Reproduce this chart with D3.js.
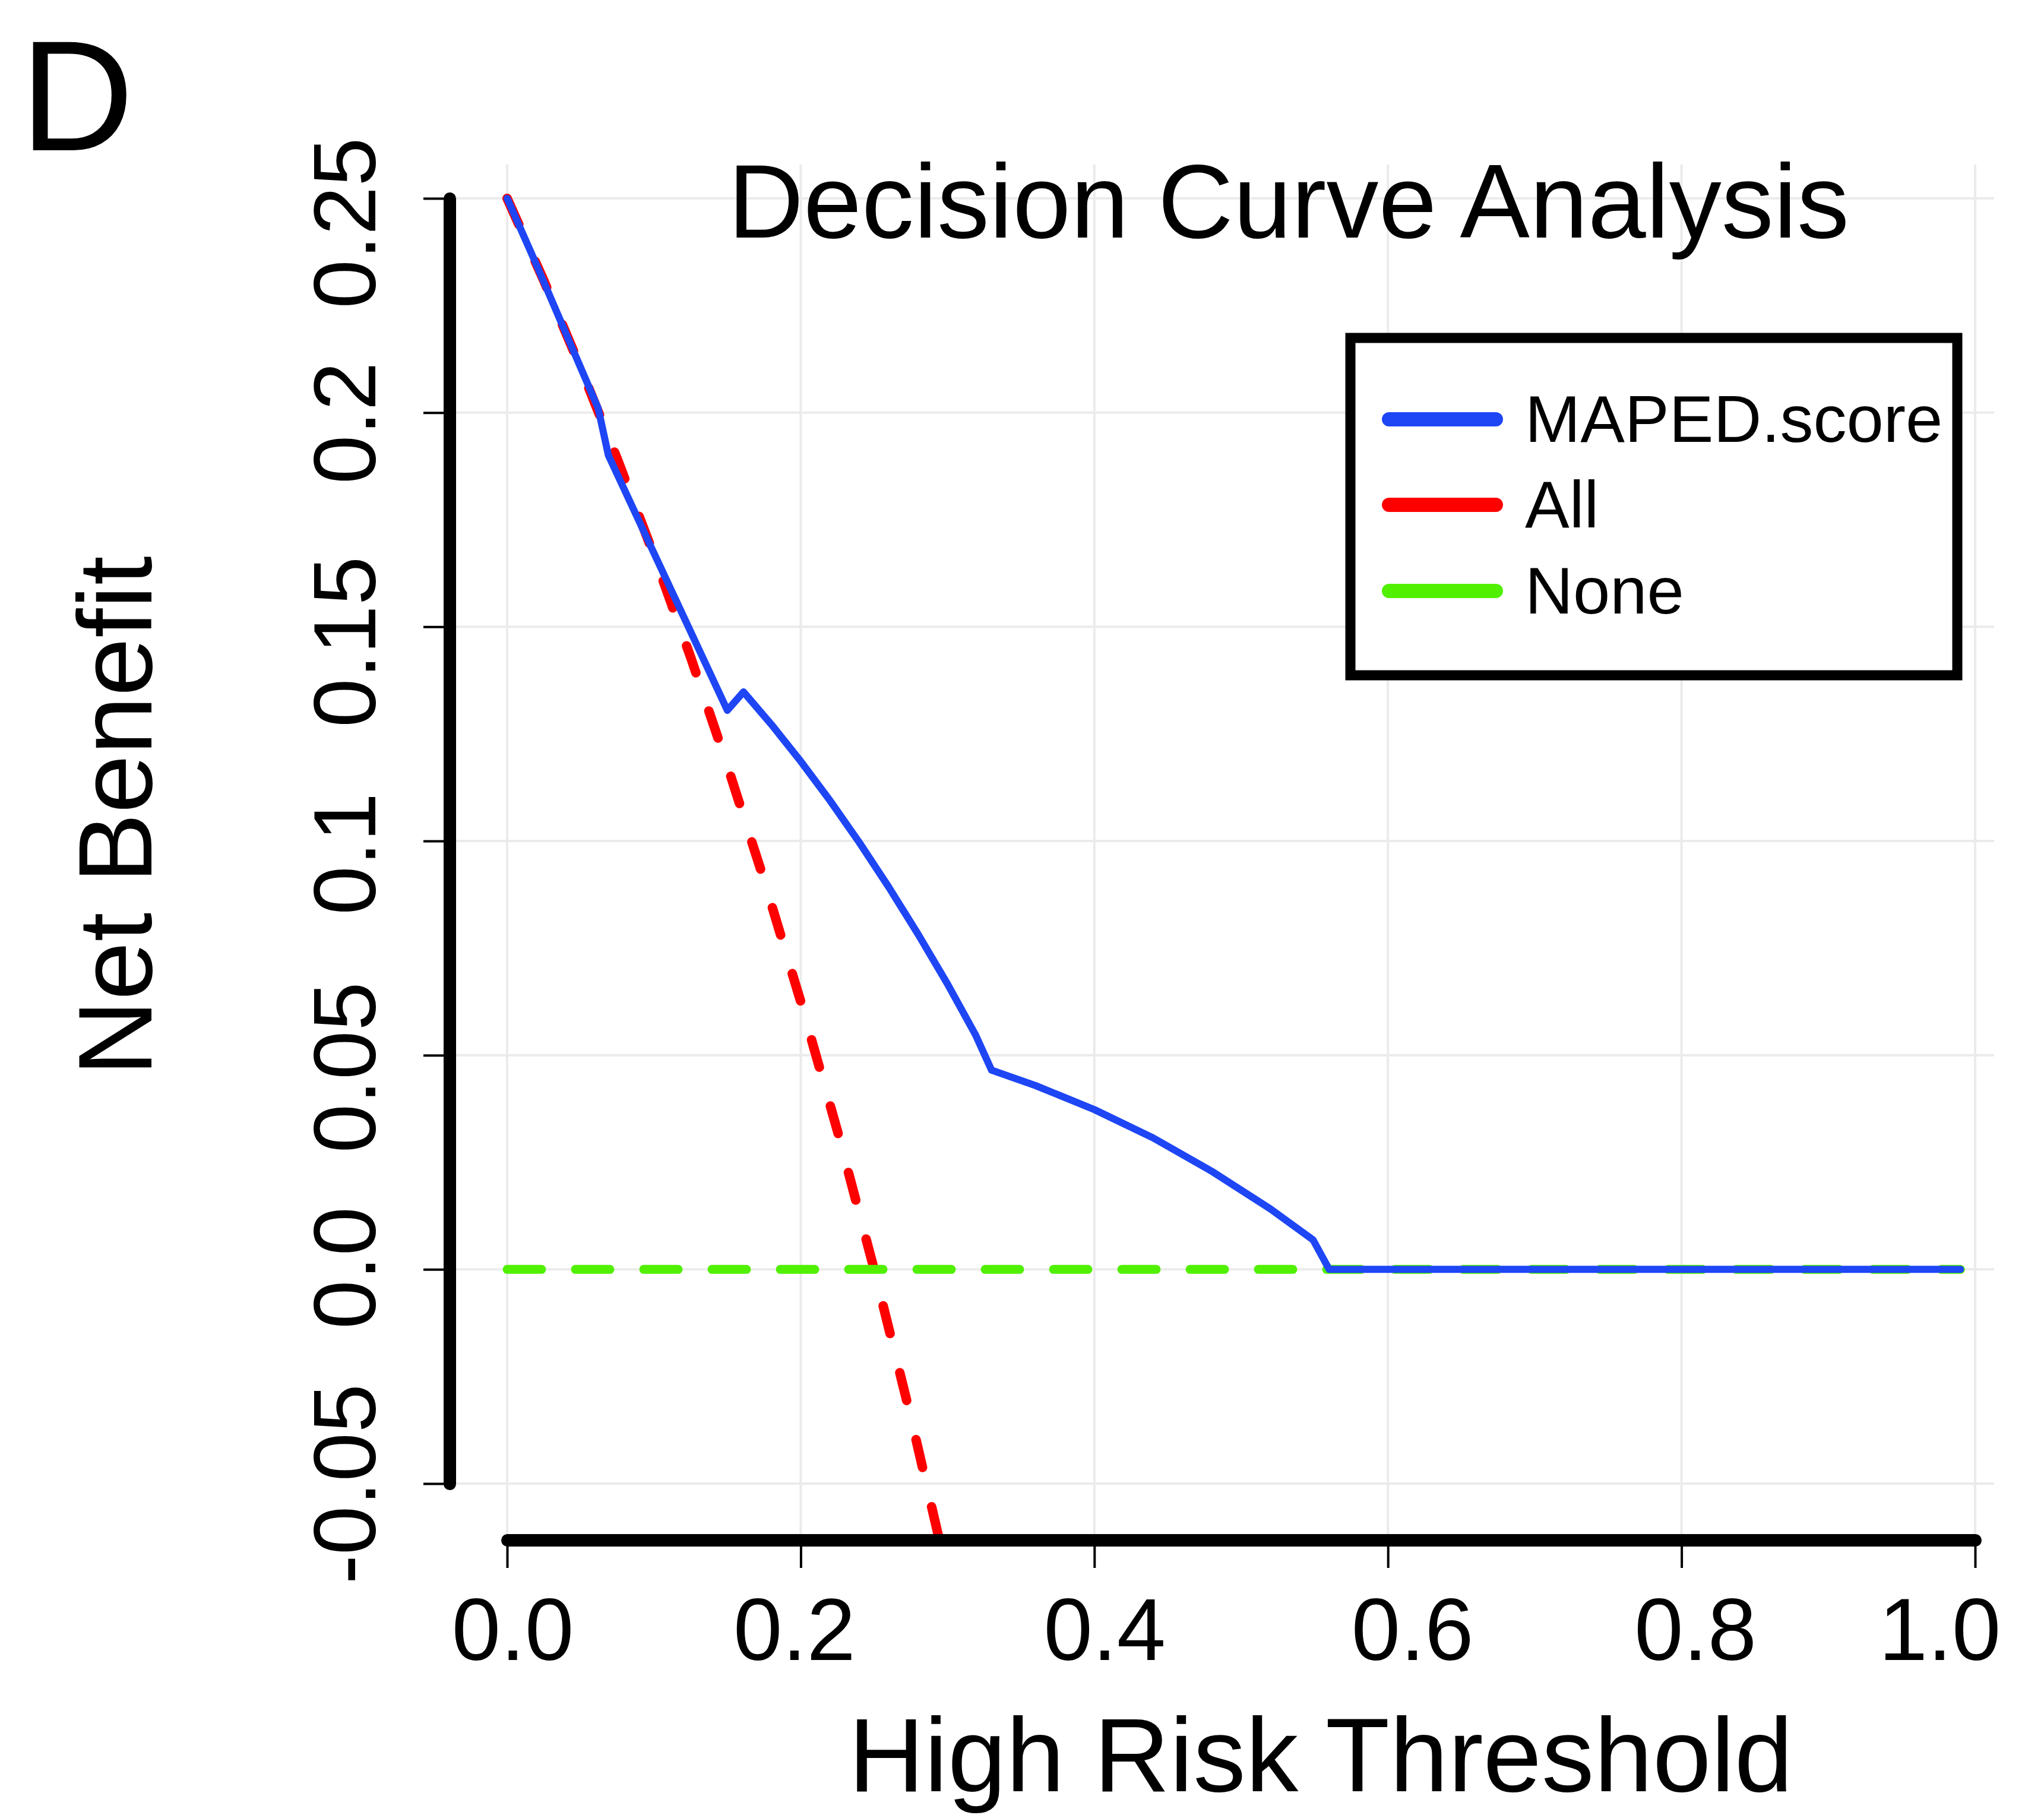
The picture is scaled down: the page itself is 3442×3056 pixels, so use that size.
<!DOCTYPE html>
<html>
<head>
<meta charset="utf-8">
<script src="https://cdn.jsdelivr.net/npm/d3@7"></script>
<style>
  body { margin: 0; background: #fff; }
  text { font-family: "Liberation Sans", Arial, sans-serif; fill: #000; }
</style>
</head>
<body>
<svg width="3442" height="3056"></svg>
<script>
// data
var mapedThreshold = [0, 0.02, 0.04, 0.062, 0.069, 0.10, 0.13, 0.150, 0.161, 0.18, 0.20, 0.22, 0.24, 0.26, 0.28, 0.30, 0.319, 0.330, 0.36, 0.40, 0.44, 0.48, 0.52, 0.549, 0.560, 0.60, 0.70, 0.80, 0.90, 0.99];
var mapedNB = [0.25, 0.2345, 0.2185, 0.201, 0.190, 0.1672, 0.1452, 0.1305, 0.1348, 0.1272, 0.1186, 0.1094, 0.0996, 0.0892, 0.0782, 0.0666, 0.0548, 0.0465, 0.0429, 0.0373, 0.0307, 0.0229, 0.0141, 0.0069, 0, 0, 0, 0, 0, 0];

var allThreshold = [0, 0.025, 0.05, 0.075, 0.10, 0.125, 0.15, 0.175, 0.20, 0.225, 0.25, 0.275, 0.30, 0.325, 0.35];
var allNB = [0.25, 0.2308, 0.2105, 0.1892, 0.1667, 0.1429, 0.1176, 0.0909, 0.0625, 0.0323, 0, -0.0345, -0.0714, -0.1111, -0.1538];

var noneThreshold = [0, 0.99];
var noneNB = [0, 0];

var xTicks = [0, 0.2, 0.4, 0.6, 0.8, 1.0];
var xTickLabels = ["0.0", "0.2", "0.4", "0.6", "0.8", "1.0"];
var yTicks = [-0.05, 0, 0.05, 0.1, 0.15, 0.2, 0.25];
var yTickLabels = ["-0.05", "0.0", "0.05", "0.1", "0.15", "0.2", "0.25"];

var legendLabels = ["MAPED.score", "All", "None"];
var seriesColors = ["#1e46f5", "#ff0000", "#50f000"];

// small label nudges seen in the figure
var xLabelShift = [9, -11, 17, 41, 23, -60];
var yLabelShift = [0, -3, 20, 21, 25, 17, 41];

var svg = d3.select("svg");

var panel = { left: 757, right: 3358, top: 277, bottom: 2594 };

var x = d3.scaleLinear().domain([0, 1]).range([854, 3326]);
var y = d3.scaleLinear().domain([-0.05, 0.25]).range([2498, 334]);

svg.append("rect").attr("width", 3442).attr("height", 3056).attr("fill", "#fff");

// grid
var grid = svg.append("g").attr("stroke", "#ebebeb").attr("stroke-width", 4);
grid.selectAll(".vg")
  .data(xTicks)
  .enter()
  .append("line")
  .attr("x1", function (d) { return x(d); })
  .attr("x2", function (d) { return x(d); })
  .attr("y1", panel.top)
  .attr("y2", panel.bottom);
grid.selectAll(".hg")
  .data(yTicks)
  .enter()
  .append("line")
  .attr("y1", function (d) { return y(d); })
  .attr("y2", function (d) { return y(d); })
  .attr("x1", panel.left)
  .attr("x2", panel.right);

svg.append("clipPath").attr("id", "clip")
  .append("rect")
  .attr("x", panel.left).attr("y", panel.top)
  .attr("width", panel.right - panel.left)
  .attr("height", panel.bottom - panel.top);

var line = d3.line()
  .x(function (d) { return x(d[0]); })
  .y(function (d) { return y(d[1]); });

var plot = svg.append("g").attr("clip-path", "url(#clip)");

// All (red dashed)
plot.append("path")
  .datum(d3.zip(allThreshold, allNB))
  .attr("d", line)
  .attr("fill", "none")
  .attr("stroke", seriesColors[1])
  .attr("stroke-width", 16)
  .attr("stroke-dasharray", "48,68")
  .attr("stroke-linecap", "round");

// None (green dashed)
plot.append("path")
  .datum(d3.zip(noneThreshold, noneNB))
  .attr("d", line)
  .attr("fill", "none")
  .attr("stroke", seriesColors[2])
  .attr("stroke-width", 15)
  .attr("stroke-dasharray", "58,57")
  .attr("stroke-linecap", "round");

// MAPED.score (blue)
plot.append("path")
  .datum(d3.zip(mapedThreshold, mapedNB))
  .attr("d", line)
  .attr("fill", "none")
  .attr("stroke", seriesColors[0])
  .attr("stroke-width", 12)
  .attr("stroke-linejoin", "round")
  .attr("stroke-linecap", "round");

// x axis
var xAxis = svg.append("g")
  .attr("transform", "translate(0," + 2593 + ")")
  .call(d3.axisBottom(x)
    .tickValues(xTicks)
    .tickSize(47)
    .tickSizeOuter(0)
    .tickFormat(function (d, i) { return xTickLabels[i]; }));
xAxis.select(".domain").attr("stroke", "#000").attr("stroke-width", 21).attr("stroke-linecap", "round");
xAxis.selectAll(".tick line").attr("stroke", "#000").attr("stroke-width", 4);
xAxis.selectAll(".tick text")
  .attr("x", function (d, i) { return xLabelShift[i]; })
  .attr("y", 202)
  .attr("dy", 0)
  .attr("font-size", 148)
  .attr("font-family", "Liberation Sans, Arial, sans-serif")
  .attr("fill", "#000");

// y axis
var yAxis = svg.append("g")
  .attr("transform", "translate(" + 757 + ",0)")
  .call(d3.axisLeft(y)
    .tickValues(yTicks)
    .tickSize(44)
    .tickSizeOuter(0)
    .tickFormat(function (d, i) { return yTickLabels[i]; }));
yAxis.select(".domain").attr("stroke", "#000").attr("stroke-width", 21).attr("stroke-linecap", "round");
yAxis.selectAll(".tick line").attr("stroke", "#000").attr("stroke-width", 4);
yAxis.selectAll(".tick text")
  .attr("transform", "rotate(-90)")
  .attr("x", function (d, i) { return -yLabelShift[i]; })
  .attr("y", -125)
  .attr("dy", 0)
  .attr("text-anchor", "middle")
  .attr("font-size", 148)
  .attr("font-family", "Liberation Sans, Arial, sans-serif")
  .attr("fill", "#000");

// titles
svg.append("text")
  .attr("x", 1226)
  .attr("y", 400)
  .attr("font-size", 176)
  .text("Decision Curve Analysis");

svg.append("text")
  .attr("x", 2224)
  .attr("y", 3016)
  .attr("text-anchor", "middle")
  .attr("font-size", 177)
  .text("High Risk Threshold");

svg.append("text")
  .attr("transform", "translate(255,1374) rotate(-90)")
  .attr("text-anchor", "middle")
  .attr("font-size", 177)
  .text("Net Benefit");

svg.append("text")
  .attr("x", 34)
  .attr("y", 253)
  .attr("font-size", 265)
  .text("D");

// legend
var legend = svg.append("g");
legend.append("rect")
  .attr("x", 2274)
  .attr("y", 569)
  .attr("width", 1022)
  .attr("height", 568)
  .attr("fill", "#fff")
  .attr("stroke", "#000")
  .attr("stroke-width", 17);

var legendY = [706, 850, 995];
var items = legend.selectAll(".item")
  .data(legendLabels)
  .enter()
  .append("g")
  .attr("transform", function (d, i) { return "translate(0," + legendY[i] + ")"; });
items.append("line")
  .attr("x1", 2339)
  .attr("x2", 2519)
  .attr("stroke", function (d, i) { return seriesColors[i]; })
  .attr("stroke-width", 24)
  .attr("stroke-linecap", "round");
items.append("text")
  .attr("x", 2568)
  .attr("y", 38)
  .attr("font-size", 112)
  .text(function (d) { return d; });
</script>
</body>
</html>
